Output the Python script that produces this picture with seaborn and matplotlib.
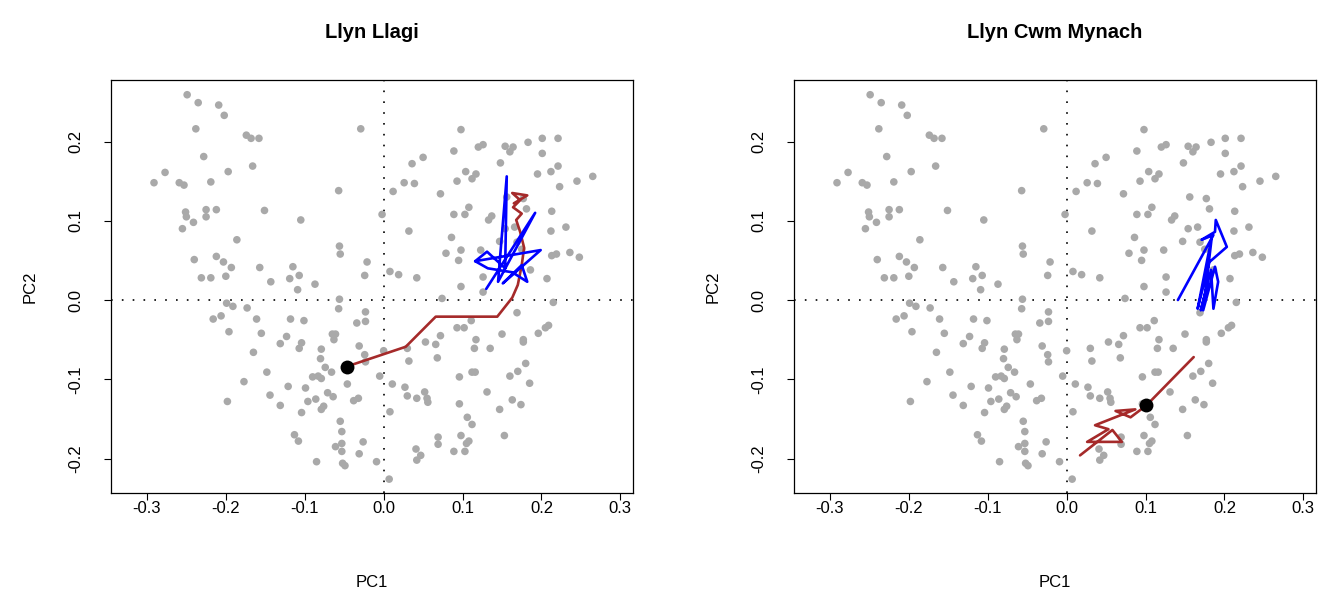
import numpy as np
import pandas as pd
import matplotlib
matplotlib.use("Agg")
import matplotlib.pyplot as plt
import seaborn as sns

# ---- training-set PCA scores (grey points, identical in both panels) ----
pc1 = [-0.249, -0.235, -0.209, -0.202, -0.238, -0.174, -0.228, -0.277, -0.291, -0.259,
       -0.253, -0.219, -0.197, -0.251, -0.250, -0.225, -0.225, -0.212, -0.241, -0.255,
       -0.186, -0.240, -0.212, -0.203, -0.193, -0.231, -0.219, -0.200, -0.168, -0.158,
       -0.029, -0.166, -0.057, -0.151, -0.105, -0.002, -0.056, -0.055, -0.021, -0.157,
       -0.115, -0.107, -0.119, -0.143, -0.087, -0.109, -0.024, 0.098, 0.089, 0.120,
       0.126, 0.154, 0.164, 0.160, 0.050, 0.036, 0.148, 0.104, 0.117, 0.112,
       0.093, 0.026, 0.039, 0.012, 0.072, 0.156, 0.108, 0.089, 0.103, 0.137,
       0.133, 0.154, 0.032, 0.086, 0.147, 0.098, 0.079, 0.123, 0.095, 0.008,
       0.019, 0.042, 0.098, 0.126, 0.126, 0.183, 0.201, 0.221, 0.201, 0.221,
       0.212, 0.195, 0.223, 0.245, 0.265, 0.181, 0.213, 0.231, 0.212, 0.166,
       0.175, 0.213, 0.219, 0.236, 0.248, 0.186, 0.207, 0.177, 0.169, -0.199,
       -0.191, -0.173, -0.206, -0.216, -0.196, -0.177, -0.198, -0.056, -0.057, -0.023,
       -0.034, -0.023, -0.161, -0.118, -0.101, -0.155, -0.123, -0.131, -0.065, -0.061,
       -0.063, -0.104, -0.107, -0.079, -0.031, -0.165, -0.024, -0.080, -0.023, -0.074,
       -0.066, -0.148, 0.000, -0.005, -0.090, -0.083, -0.079, -0.121, -0.099, -0.046,
       -0.144, -0.071, -0.064, -0.086, -0.096, -0.038, -0.032, -0.131, -0.076, -0.079,
       -0.104, -0.055, -0.053, -0.113, -0.108, -0.053, -0.026, -0.061, -0.053, -0.031,
       -0.085, -0.052, -0.049, -0.009, 0.074, 0.169, 0.093, 0.102, 0.111, 0.072,
       0.150, 0.117, 0.053, 0.066, 0.030, 0.115, 0.135, 0.032, 0.068, 0.112,
       0.116, 0.096, 0.160, 0.170, 0.011, 0.027, 0.030, 0.042, 0.052, 0.055,
       0.056, 0.131, 0.163, 0.096, 0.147, 0.008, 0.106, 0.112, 0.069, 0.069,
       0.098, 0.108, 0.105, 0.153, 0.041, 0.047, 0.042, 0.089, 0.103, 0.007,
       0.215, 0.209, 0.205, 0.196, 0.177, 0.177, 0.180, 0.185, 0.174]
pc2 = [0.259, 0.249, 0.246, 0.233, 0.216, 0.208, 0.181, 0.161, 0.148, 0.148,
       0.145, 0.149, 0.162, 0.111, 0.105, 0.114, 0.105, 0.114, 0.098, 0.090,
       0.076, 0.051, 0.055, 0.048, 0.041, 0.028, 0.028, 0.030, 0.204, 0.204,
       0.216, 0.169, 0.138, 0.113, 0.101, 0.108, 0.068, 0.058, 0.048, 0.041,
       0.042, 0.031, 0.027, 0.023, 0.020, 0.013, 0.031, 0.215, 0.188, 0.193,
       0.196, 0.194, 0.193, 0.187, 0.180, 0.172, 0.173, 0.162, 0.159, 0.153,
       0.150, 0.148, 0.147, 0.137, 0.134, 0.130, 0.117, 0.108, 0.108, 0.106,
       0.101, 0.090, 0.087, 0.079, 0.074, 0.063, 0.059, 0.063, 0.050, 0.036,
       0.032, 0.028, 0.017, 0.029, 0.010, 0.199, 0.204, 0.204, 0.185, 0.169,
       0.162, 0.159, 0.143, 0.150, 0.156, 0.115, 0.112, 0.092, 0.087, 0.092,
       0.064, 0.056, 0.058, 0.060, 0.054, 0.038, 0.027, 0.128, 0.073, -0.004,
       -0.008, -0.010, -0.020, -0.024, -0.040, -0.103, -0.128, 0.001, -0.011, -0.015,
       -0.029, -0.027, -0.024, -0.024, -0.026, -0.042, -0.046, -0.055, -0.043, -0.043,
       -0.050, -0.054, -0.061, -0.062, -0.058, -0.066, -0.069, -0.074, -0.078, -0.085,
       -0.091, -0.091, -0.064, -0.096, -0.097, -0.096, -0.099, -0.109, -0.111, -0.106,
       -0.120, -0.117, -0.122, -0.125, -0.128, -0.127, -0.124, -0.133, -0.134, -0.138,
       -0.142, -0.153, -0.166, -0.170, -0.178, -0.181, -0.179, -0.185, -0.191, -0.194,
       -0.204, -0.206, -0.209, -0.204, 0.002, -0.016, -0.035, -0.035, -0.026, -0.045,
       -0.043, -0.050, -0.053, -0.056, -0.061, -0.061, -0.061, -0.077, -0.073, -0.091,
       -0.091, -0.097, -0.096, -0.090, -0.106, -0.110, -0.121, -0.124, -0.116, -0.124,
       -0.129, -0.116, -0.126, -0.131, -0.138, -0.141, -0.148, -0.157, -0.173, -0.182,
       -0.171, -0.178, -0.181, -0.171, -0.188, -0.196, -0.202, -0.191, -0.191, -0.226,
       -0.003, -0.032, -0.035, -0.042, -0.050, -0.053, -0.080, -0.105, -0.132]

# ---- Llyn Llagi trajectories ----
llagi_red_pc1 = [-0.047, 0.028, 0.066, 0.144, 0.163, 0.170, 0.175, 0.178, 0.173, 0.168,
                 0.175, 0.164, 0.173, 0.163, 0.182, 0.165]
llagi_red_pc2 = [-0.084, -0.059, -0.021, -0.021, 0.003, 0.019, 0.044, 0.066, 0.086, 0.101,
                 0.109, 0.117, 0.126, 0.135, 0.132, 0.122]
llagi_blue_pc1 = [0.130, 0.192, 0.145, 0.156, 0.154, 0.131, 0.116, 0.199, 0.151, 0.175,
                  0.182, 0.163, 0.132, 0.116]
llagi_blue_pc2 = [0.014, 0.110, 0.023, 0.156, 0.040, 0.061, 0.049, 0.063, 0.021, 0.044,
                  0.023, 0.035, 0.040, 0.049]
llagi_start = (-0.047, -0.084)

# ---- Llyn Cwm Mynach trajectories ----
mynach_red_pc1 = [0.161, 0.101, 0.081, 0.062, 0.087, 0.036, 0.053, 0.026, 0.070, 0.058, 0.017]
mynach_red_pc2 = [-0.072, -0.133, -0.148, -0.140, -0.138, -0.158, -0.163, -0.179, -0.179,
                  -0.164, -0.196]
mynach_blue_pc1 = [0.141, 0.186, 0.171, 0.188, 0.189, 0.203, 0.181, 0.166, 0.184, 0.173,
                   0.188, 0.192, 0.186, 0.183, 0.170, 0.179]
mynach_blue_pc2 = [0.000, 0.082, 0.076, 0.086, 0.101, 0.067, 0.048, -0.011, 0.080, -0.013,
                   0.042, 0.023, -0.011, 0.038, -0.013, 0.021]
mynach_start = (0.101, -0.133)

titles = ["Llyn Llagi", "Llyn Cwm Mynach"]
xticks = [-0.3, -0.2, -0.1, 0.0, 0.1, 0.2, 0.3]
yticks = [-0.2, -0.1, 0.0, 0.1, 0.2]

sns.set_theme(style="ticks")
plt.rcParams['font.family'] = ['Liberation Sans', 'DejaVu Sans']
plt.rcParams['axes.unicode_minus'] = False

W, H = 1323, 594
fig = plt.figure(figsize=(W / 100, H / 100), dpi=100)
ax_boxes = [(111, 80, 633, 493), (794, 80, 1316, 493)]

train = pd.DataFrame({"PC1": pc1, "PC2": pc2})
panels = [
    (pd.DataFrame({"PC1": llagi_red_pc1, "PC2": llagi_red_pc2}),
     pd.DataFrame({"PC1": llagi_blue_pc1, "PC2": llagi_blue_pc2}), llagi_start),
    (pd.DataFrame({"PC1": mynach_red_pc1, "PC2": mynach_red_pc2}),
     pd.DataFrame({"PC1": mynach_blue_pc1, "PC2": mynach_blue_pc2}), mynach_start),
]

for i, (x0, y0, x1, y1) in enumerate(ax_boxes):
    ax = fig.add_axes([x0 / W, (H - y1) / H, (x1 - x0) / W, (y1 - y0) / H])
    red, blue, start = panels[i]
    sns.scatterplot(data=train, x="PC1", y="PC2", ax=ax, color="#A9A9A9", s=30,
                    edgecolor="none", linewidth=0, zorder=2)
    ax.axhline(0, color="black", linestyle=(0, (1, 5.5)), linewidth=1.2, zorder=1)
    ax.axvline(0, color="black", linestyle=(0, (1, 5.5)), linewidth=1.2, zorder=1)
    sns.lineplot(data=red, x="PC1", y="PC2", ax=ax, sort=False, estimator=None,
                 color="#A52A2A", linewidth=1.9, zorder=3)
    sns.lineplot(data=blue, x="PC1", y="PC2", ax=ax, sort=False, estimator=None,
                 color="#0000FF", linewidth=1.9, zorder=4)
    ax.scatter([start[0]], [start[1]], color="black", s=100, zorder=5, linewidths=0)

    ax.set_xlim(-0.3455, 0.316)
    ax.set_ylim(-0.2435, 0.2776)
    ax.set_xticks(xticks)
    ax.set_xticklabels([f"{v:.1f}" if v != 0 else "0.0" for v in xticks])
    ax.set_yticks(yticks)
    ax.set_yticklabels([f"{v:.1f}" if v != 0 else "0.0" for v in yticks],
                       rotation=90, va="center")
    ax.tick_params(axis="both", direction="out", length=5, width=0.8,
                   labelsize=12, color="black", labelcolor="black")
    ax.tick_params(axis="x", pad=1)
    ax.tick_params(axis="y", pad=15)
    for sp in ax.spines.values():
        sp.set_visible(True)
        sp.set_color("black")
        sp.set_linewidth(0.9)
    ax.set_xlabel("PC1", fontsize=12, labelpad=42, color="black")
    ax.set_ylabel("PC2", fontsize=12, labelpad=22, color="black")
    ax.set_title(titles[i], fontsize=14.5, fontweight="bold", pad=30, color="black")
    ax.grid(False)

fig.savefig("out.png", dpi=100, facecolor="white")
